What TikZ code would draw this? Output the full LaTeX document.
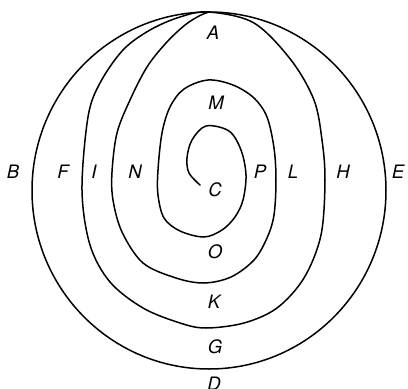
\documentclass[tikz,border=0pt]{standalone}
\usepackage{fontspec}
\setmainfont{TeX Gyre Heros}
\begin{document}
\begin{tikzpicture}[x=1pt,y=-1pt,
  curve/.style={line width=1.5pt, line join=round, line cap=round},
  lab/.style={font=\fontsize{18.5}{20}\selectfont\itshape, inner sep=0pt, anchor=center}]
\useasboundingbox (0,0) rectangle (408,389);
% outer circle
\draw[curve] (209,190.5) ellipse [x radius=177, y radius=178.5];
% second loop
\draw[curve] plot[smooth cycle, tension=0.55] coordinates {
  (209,12) (254,23) (291,60) (314,100) (322,140) (325,180) (321,235) (304,278) (277,308) (244,323) (206,328)
  (180,323) (143,308) (110,282) (90,245) (82,190) (88,117) (100,83) (123,50) (150,30) (180,17)};
% inner spiral ending at the top
\draw[curve] plot[smooth, tension=0.55] coordinates {
  (200,185) (189,173) (187,158) (192,140) (206,126) (229,131) (241,150) (246,175) (243,200) (235,217) (222,230)
  (204,237) (180,231) (164,218) (158,195) (158,170) (162,133) (170,107) (184,89) (208,80) (233,85) (254,98)
  (267,117) (274,148) (276,180) (274,215) (267,238) (254,260) (231,277) (204,283) (176,278) (143,263)
  (122,232) (113,200) (112,172) (117,133) (130,100) (147,67) (166,43) (185,25) (200,15.5) (209,12)};
% labels
\node[lab] (A) at (213,33) {A};
\node[lab] (M) at (216,103) {M};
\node[lab] (C) at (215,190) {C};
\node[lab] (B) at (13,172) {B};
\node[lab] (F) at (63,172) {F};
\node[lab] (I) at (94,172) {I};
\node[lab] (N) at (135,172) {N};
\node[lab] (P) at (260,172) {P};
\node[lab] (L) at (293,172) {L};
\node[lab] (H) at (343,172) {H};
\node[lab] (E) at (398,172) {E};
\node[lab] (O) at (215,252) {O};
\node[lab] (K) at (214,302) {K};
\node[lab] (G) at (215,347) {G};
\node[lab] (D) at (214,384) {D};
\end{tikzpicture}
\end{document}
